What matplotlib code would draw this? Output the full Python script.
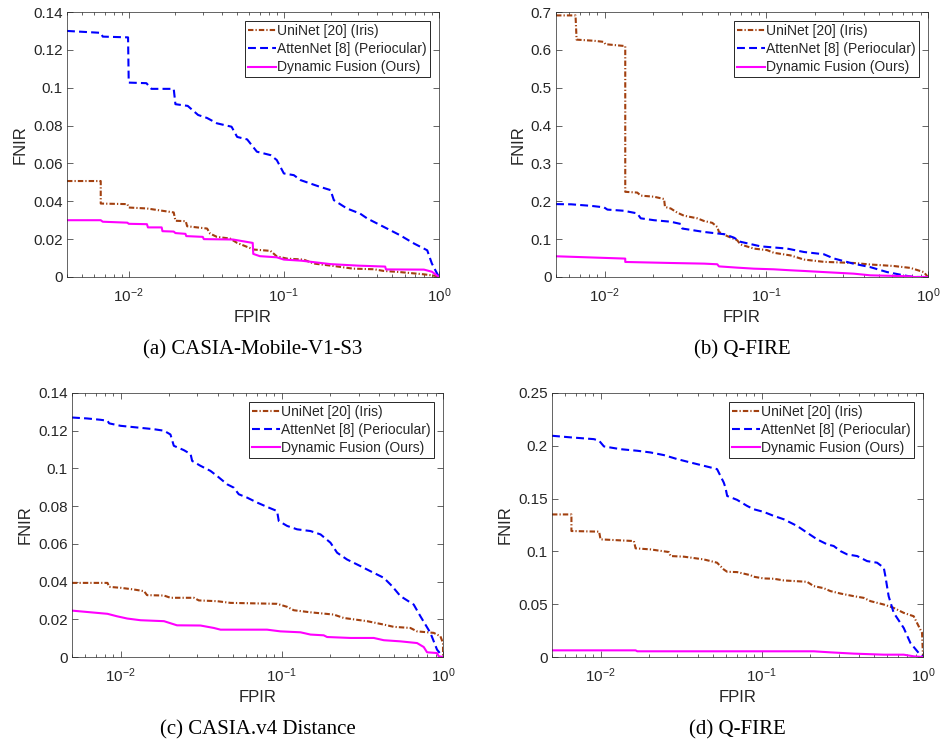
import numpy as np
import matplotlib
matplotlib.use("Agg")
import matplotlib.pyplot as plt
from matplotlib.ticker import FuncFormatter, LogLocator, NullFormatter

plt.rcParams['font.family'] = ['Liberation Sans', 'DejaVu Sans']
plt.rcParams['mathtext.fontset'] = 'custom'
plt.rcParams['mathtext.rm'] = 'Liberation Sans'

# ─────────────────────────────
# 1. DATA
# ─────────────────────────────
labels = ["UniNet [20] (Iris)", "AttenNet [8] (Periocular)", "Dynamic Fusion (Ours)"]
captions = ["(a) CASIA-Mobile-V1-S3", "(b) Q-FIRE", "(c) CASIA.v4 Distance", "(d) Q-FIRE"]

# (a) CASIA-Mobile-V1-S3
x_a_uni = [0.004, 0.0066, 0.0066, 0.0098, 0.01, 0.0131, 0.0195, 0.02, 0.0233, 0.0238, 0.032, 0.0335,
           0.037, 0.045, 0.05, 0.058, 0.064, 0.082, 0.09, 0.105, 0.134, 0.156, 0.21, 0.28, 0.38, 0.44,
           0.56, 0.8, 0.97, 1.0]
y_a_uni = [0.0507, 0.0507, 0.0388, 0.0385, 0.0367, 0.0362, 0.0341, 0.0297, 0.0295, 0.0268, 0.0256, 0.0229,
           0.0212, 0.0203, 0.0180, 0.0159, 0.0145, 0.0138, 0.0109, 0.0097, 0.0092, 0.0071, 0.0058, 0.0044,
           0.0041, 0.0032, 0.0026, 0.0014, 0.0005, 0.0]
x_a_att = [0.004, 0.0066, 0.0068, 0.0099, 0.01, 0.013, 0.014, 0.0195, 0.02, 0.024, 0.028, 0.032, 0.037,
           0.046, 0.05, 0.058, 0.067, 0.082, 0.09, 0.1, 0.116, 0.128, 0.17, 0.2, 0.21, 0.255, 0.31, 0.345,
           0.44, 0.56, 0.69, 0.84, 0.9, 0.97, 1.0]
y_a_att = [0.130, 0.129, 0.127, 0.1266, 0.1027, 0.1024, 0.0994, 0.0994, 0.0913, 0.0904, 0.0856, 0.084,
           0.0812, 0.0794, 0.074, 0.0727, 0.0662, 0.0644, 0.0618, 0.0547, 0.0538, 0.0512, 0.0477, 0.0459,
           0.0406, 0.0362, 0.0335, 0.0309, 0.0265, 0.0221, 0.0177, 0.0141, 0.0071, 0.002, 0.0]
x_a_dyn = [0.004, 0.0066, 0.0068, 0.0098, 0.01, 0.0131, 0.0133, 0.0163, 0.0165, 0.0195, 0.02, 0.0232,
           0.0235, 0.030, 0.0305, 0.047, 0.063, 0.0635, 0.07, 0.09, 0.1, 0.13, 0.2, 0.3, 0.45, 0.455, 0.8,
           0.9, 1.0]
y_a_dyn = [0.030, 0.030, 0.0292, 0.0287, 0.0281, 0.0279, 0.0262, 0.0262, 0.0242, 0.0240, 0.0232, 0.0228,
           0.0216, 0.0212, 0.0200, 0.0198, 0.0180, 0.0122, 0.0110, 0.0104, 0.0092, 0.0086, 0.0068, 0.0060,
           0.0055, 0.0040, 0.0039, 0.0028, 0.0]

# (b) Q-FIRE
x_b_uni = [0.005, 0.0066, 0.0067, 0.0086, 0.0099, 0.0101, 0.0134, 0.0134, 0.0159, 0.0167, 0.0202, 0.0233,
           0.0236, 0.0256, 0.0281, 0.0309, 0.0374, 0.0411, 0.0463, 0.0497, 0.0509, 0.0573, 0.066, 0.0692,
           0.0837, 0.101, 0.111, 0.141, 0.171, 0.227, 0.347, 0.44, 0.614, 0.778, 0.94, 1.0]
y_b_uni = [0.691, 0.691, 0.627, 0.624, 0.621, 0.615, 0.610, 0.225, 0.223, 0.215, 0.212, 0.206, 0.185,
           0.181, 0.170, 0.162, 0.155, 0.148, 0.143, 0.132, 0.119, 0.108, 0.097, 0.086, 0.075, 0.071,
           0.064, 0.057, 0.046, 0.040, 0.037, 0.033, 0.029, 0.024, 0.013, 0.0]
x_b_att = [0.005, 0.0062, 0.0082, 0.0099, 0.0104, 0.0131, 0.0159, 0.0167, 0.0202, 0.0256, 0.0296, 0.0302,
           0.0411, 0.0497, 0.055, 0.063, 0.0692, 0.092, 0.1345, 0.171, 0.227, 0.261, 0.347, 0.44, 0.558,
           0.707, 0.815, 1.0]
y_b_att = [0.1925, 0.192, 0.188, 0.184, 0.178, 0.175, 0.168, 0.155, 0.150, 0.146, 0.140, 0.128, 0.119,
           0.115, 0.113, 0.104, 0.093, 0.081, 0.075, 0.066, 0.060, 0.049, 0.035, 0.026, 0.013, 0.0044,
           0.0, 0.0]
x_b_dyn = [0.005, 0.0134, 0.0134, 0.0256, 0.0411, 0.0497, 0.0509, 0.066, 0.0837, 0.111, 0.141, 0.171,
           0.227, 0.347, 0.44, 0.778, 0.815, 1.0]
y_b_dyn = [0.0547, 0.0486, 0.0397, 0.037, 0.0353, 0.0336, 0.028, 0.0247, 0.022, 0.0203, 0.0177, 0.0159,
           0.013, 0.0088, 0.0044, 0.0018, 0.0, 0.0]

# (c) CASIA.v4 Distance
x_c_uni = [0.005, 0.0083, 0.0085, 0.01, 0.0121, 0.014, 0.0146, 0.0186, 0.0204, 0.0285, 0.0306, 0.0397,
           0.0481, 0.0935, 0.108, 0.1187, 0.1507, 0.21, 0.242, 0.338, 0.429, 0.494, 0.627, 0.69, 0.875,
           0.963, 1.0, 1.0]
y_c_uni = [0.0393, 0.0393, 0.0372, 0.0367, 0.0358, 0.0349, 0.0328, 0.0326, 0.0314, 0.0314, 0.030, 0.0296,
           0.0287, 0.0282, 0.0266, 0.0248, 0.0237, 0.0225, 0.0207, 0.019, 0.0172, 0.016, 0.0154, 0.0136,
           0.0128, 0.011, 0.0074, 0.0]
x_c_att = [0.005, 0.0062, 0.0075, 0.0083, 0.0085, 0.01, 0.0127, 0.0161, 0.0186, 0.0204, 0.0214, 0.0247,
           0.0272, 0.0278, 0.0313, 0.0361, 0.0397, 0.0458, 0.0504, 0.0541, 0.061, 0.0703, 0.081, 0.0935,
           0.0958, 0.108, 0.1245, 0.1507, 0.174, 0.2005, 0.2204, 0.254, 0.3075, 0.3546, 0.429, 0.483,
           0.544, 0.658, 0.724, 0.835, 0.918, 1.0]
y_c_att = [0.127, 0.1265, 0.1258, 0.1253, 0.1239, 0.1226, 0.1217, 0.1208, 0.120, 0.118, 0.112, 0.1097,
           0.1076, 0.104, 0.1014, 0.0987, 0.096, 0.0916, 0.0898, 0.0863, 0.0845, 0.0819, 0.0796, 0.0774,
           0.0721, 0.0695, 0.0677, 0.0668, 0.065, 0.0606, 0.0553, 0.0517, 0.0482, 0.0455, 0.042, 0.0376,
           0.0323, 0.0278, 0.0216, 0.0128, 0.0039, 0.0]
x_c_dyn = [0.005, 0.0083, 0.0095, 0.011, 0.0133, 0.0186, 0.0224, 0.0313, 0.0379, 0.0417, 0.081, 0.098,
           0.1306, 0.1507, 0.182, 0.191, 0.2665, 0.372, 0.429, 0.544, 0.69, 0.759, 0.796, 0.918, 0.94, 1.0]
y_c_dyn = [0.0246, 0.0229, 0.0216, 0.0204, 0.0195, 0.019, 0.0168, 0.0167, 0.0154, 0.0145, 0.0145, 0.0136,
           0.0131, 0.0119, 0.0115, 0.0106, 0.0101, 0.0101, 0.0089, 0.0083, 0.0074, 0.0053, 0.0025, 0.0021,
           0.0004, 0.0]

# (d) Q-FIRE
x_d_uni = [0.005, 0.0066, 0.0066, 0.0098, 0.01, 0.0161, 0.0165, 0.0204, 0.0265, 0.0272, 0.0329, 0.0437,
           0.0528, 0.0581, 0.061, 0.0703, 0.085, 0.0892, 0.1028, 0.1187, 0.137, 0.191, 0.21, 0.242, 0.2665,
           0.3075, 0.372, 0.429, 0.472, 0.571, 0.658, 0.759, 0.875, 0.94, 0.986, 1.0]
y_d_uni = [0.135, 0.135, 0.1193, 0.1187, 0.1114, 0.1098, 0.1029, 0.1019, 0.0994, 0.0956, 0.095, 0.0924,
           0.0893, 0.0829, 0.0807, 0.0804, 0.0775, 0.076, 0.0744, 0.0741, 0.0725, 0.0712, 0.0671, 0.0652,
           0.0624, 0.0601, 0.0576, 0.056, 0.0529, 0.0497, 0.0465, 0.0418, 0.0386, 0.0291, 0.0228, 0.0]
x_d_att = [0.005, 0.0065, 0.0091, 0.0098, 0.0105, 0.0133, 0.0169, 0.0204, 0.0247, 0.0299, 0.0361, 0.0481,
           0.0528, 0.0541, 0.0581, 0.0595, 0.061, 0.0703, 0.081, 0.0892, 0.1028, 0.1187, 0.137, 0.1656,
           0.191, 0.2204, 0.254, 0.2794, 0.3075, 0.338, 0.39, 0.45, 0.519, 0.571, 0.584, 0.612, 0.658,
           0.759, 0.835, 0.94, 1.0]
y_d_att = [0.2095, 0.208, 0.2063, 0.2048, 0.1994, 0.1968, 0.1953, 0.1937, 0.1912, 0.1874, 0.1842, 0.1795,
           0.1779, 0.1747, 0.1652, 0.1605, 0.1525, 0.1488, 0.1431, 0.1399, 0.1374, 0.1336, 0.1304, 0.1241,
           0.1177, 0.1114, 0.1067, 0.1051, 0.1003, 0.0972, 0.0956, 0.0908, 0.0893, 0.0845, 0.0766, 0.0576,
           0.0418, 0.0275, 0.0133, 0.0038, 0.0]
x_d_dyn = [0.005, 0.0165, 0.0169, 0.21, 0.2665, 0.372, 0.571, 0.759, 0.88, 1.0]
y_d_dyn = [0.0063, 0.0063, 0.0054, 0.0054, 0.0044, 0.0032, 0.0022, 0.0022, 0.0006, 0.0]

# axis settings per panel
xmins = [0.004, 0.005, 0.005, 0.005]
ymaxs = [0.14, 0.7, 0.14, 0.25]
ysteps = [0.02, 0.1, 0.02, 0.05]

# ─────────────────────────────
# 2. STYLE
# ─────────────────────────────
c_uni = '#A2400F'
c_att = '#0000FF'
c_dyn = '#FF00FF'
ink = '#262626'

# axes positions in figure fraction [left, bottom, width, height]
positions = [
    [0.0712, 0.6287, 0.3953, 0.3552],
    [0.5909, 0.6287, 0.3953, 0.3552],
    [0.0765, 0.1193, 0.3943, 0.3539],
    [0.5866, 0.1193, 0.3943, 0.3539],
]
caption_y = [0.531, 0.531, 0.0214, 0.0214]

panels = [
    (x_a_uni, y_a_uni, x_a_att, y_a_att, x_a_dyn, y_a_dyn),
    (x_b_uni, y_b_uni, x_b_att, y_b_att, x_b_dyn, y_b_dyn),
    (x_c_uni, y_c_uni, x_c_att, y_c_att, x_c_dyn, y_c_dyn),
    (x_d_uni, y_d_uni, x_d_att, y_d_att, x_d_dyn, y_d_dyn),
]

# ─────────────────────────────
# 3. DRAW
# ─────────────────────────────
fig = plt.figure(figsize=(9.41, 7.46), dpi=100)

for i, (xu, yu, xa, ya, xd, yd) in enumerate(panels):
    ax = fig.add_axes(positions[i])

    ax.plot(xu, yu, color=c_uni, lw=1.5, dashes=(2.6, 1.0, 0.6, 1.0), label=labels[0])
    ax.plot(xa, ya, color=c_att, lw=1.5, dashes=(3.8, 2.0), label=labels[1])
    ax.plot(xd, yd, color=c_dyn, lw=1.5, label=labels[2])

    ax.set_xscale('log')
    ax.set_xlim(xmins[i], 1.0)
    ax.set_ylim(0, ymaxs[i])
    ax.set_yticks(np.arange(0, ymaxs[i] + 1e-9, ysteps[i]))
    ax.yaxis.set_major_formatter(FuncFormatter(lambda v, p: '%g' % round(v, 4)))
    ax.xaxis.set_major_locator(LogLocator(base=10, numticks=10))
    ax.xaxis.set_minor_locator(LogLocator(base=10, subs=np.arange(2, 10), numticks=20))
    ax.xaxis.set_minor_formatter(NullFormatter())

    ax.tick_params(which='both', direction='in', top=True, right=True, colors=ink,
                   labelsize=11, width=0.5)
    ax.tick_params(which='major', length=4)
    ax.tick_params(which='minor', length=2)
    ax.tick_params(axis='x', pad=6.5)
    ax.tick_params(axis='y', pad=3)
    for s in ax.spines.values():
        s.set_color(ink)
        s.set_linewidth(0.5)

    ax.set_xlabel('FPIR', fontsize=12, color=ink, labelpad=4)
    ax.set_ylabel('FNIR', fontsize=12, color=ink, labelpad=4)

    leg = ax.legend(loc='upper right', bbox_to_anchor=(0.975, 0.965), borderaxespad=0,
                    fontsize=10, handlelength=2.0, handletextpad=0.1, labelspacing=0.3,
                    borderpad=0.2, borderaxespad_=None) if False else \
        ax.legend(loc='upper right', bbox_to_anchor=(0.975, 0.965), borderaxespad=0,
                  fontsize=10, handlelength=2.0, handletextpad=0.1, labelspacing=0.3,
                  borderpad=0.2, fancybox=False, framealpha=1)
    leg.get_frame().set_edgecolor(ink)
    leg.get_frame().set_linewidth(0.7)
    for t in leg.get_texts():
        t.set_color(ink)

    p = positions[i]
    fig.text(p[0] + p[2] / 2, caption_y[i], captions[i], ha='center', va='center',
             fontsize=15, family='Liberation Serif')

plt.savefig("out.png", dpi=100)
